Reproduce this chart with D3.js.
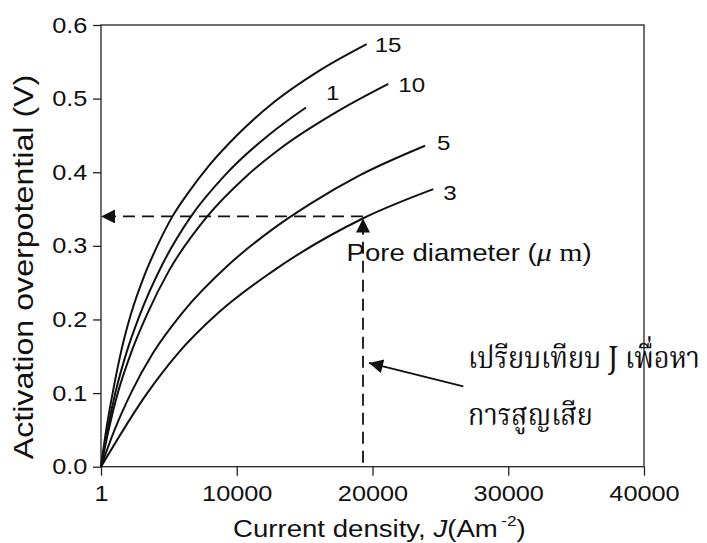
<!DOCTYPE html>
<html>
<head>
<meta charset="utf-8">
<script src="https://cdn.jsdelivr.net/npm/d3@7"></script>
<style>
  body { margin: 0; background: #fff; }
  svg { display: block; }
</style>
</head>
<body>
<svg id="chart" width="707" height="543"></svg>
<script>
// pore diameter (um) of each curve
const poreSizes = ["15", "1", "10", "5", "3"];
// current density J (A m^-2)
const curveJ = [
  [0, 400, 900, 1500, 2200, 3200, 4200, 5200, 6500, 8000, 10000, 12800, 16000, 19570],
  [0, 500, 1068, 1893, 2873, 4500, 6556, 9135, 12450, 15100],
  [0, 600, 1252, 2262, 3367, 5000, 7735, 10733, 13186, 17363, 21165],
  [0, 1000, 2262, 3853, 5945, 9503, 12450, 15500, 19080, 23870],
  [0, 3367, 5576, 8641, 12450, 19320, 24480]
];
// activation overpotential (V) at those points
const curveV = [
  [0, 0.052, 0.104, 0.158, 0.207, 0.260, 0.302, 0.338, 0.374, 0.410, 0.450, 0.496, 0.537, 0.574],
  [0, 0.052, 0.101, 0.156, 0.207, 0.274, 0.338, 0.396, 0.452, 0.488],
  [0, 0.053, 0.101, 0.157, 0.206, 0.266, 0.338, 0.395, 0.432, 0.482, 0.520],
  [0, 0.050, 0.102, 0.155, 0.208, 0.276, 0.320, 0.358, 0.396, 0.436],
  [0, 0.099, 0.152, 0.209, 0.263, 0.3375, 0.377]
];
const xTicks = [1, 10000, 20000, 30000, 40000];
const yTicks = [0, 0.1, 0.2, 0.3, 0.4, 0.5, 0.6];
// the read-off point marked with dashed lines
const markJ = 19300, markV = 0.34;
const noteLines = ["เปรียบเทียบ J เพื่อหา", "การสูญเสีย"];

var svg = d3.select("#chart");
var k = 1.15; // the fonts of the figure are wider than Arial
var sans = "'Liberation Sans', Arial, Helvetica, sans-serif";
var serif = "'Liberation Serif', 'Times New Roman', serif";
var thai = "'Noto Serif Thai', 'Angsana New', 'TH Sarabun New', Norasi, Kinnari, 'Noto Sans Thai', Garuda, Loma, serif";

var x = d3.scaleLinear().domain([0, 40000]).range([101, 644]);
var y = d3.scaleLinear().domain([0, 0.6]).range([466.7, 25]);

var defs = svg.append("defs");
defs.append("marker")
  .attr("id", "head")
  .attr("viewBox", "0 0 10 10")
  .attr("refX", 10).attr("refY", 5)
  .attr("markerUnits", "userSpaceOnUse")
  .attr("markerWidth", 15).attr("markerHeight", 14)
  .attr("orient", "auto")
  .append("path")
  .attr("d", "M0,0L10,5L0,10Z")
  .attr("fill", "#111");

// axes
var yAxis = d3.axisLeft(y).tickValues(yTicks).tickFormat(d3.format(".1f"))
  .tickSize(8).tickSizeOuter(0);
var xAxis = d3.axisBottom(x).tickValues(xTicks).tickFormat(function (d) { return String(d) })
  .tickSize(9).tickSizeOuter(0);

var gy = svg.append("g").attr("transform", "translate(" + x(0) + ",0)").call(yAxis);
var gx = svg.append("g").attr("transform", "translate(0," + y(0) + ")").call(xAxis);
[gx, gy].forEach(function (g) {
  g.select(".domain").remove();
  g.selectAll("line").attr("stroke", "#222").attr("stroke-width", 1.3);
  g.selectAll("text")
    .attr("fill", "#111")
    .style("font-family", sans)
    .style("font-size", "22px");
});
gy.selectAll("text").attr("x", -13.7 / k).attr("transform", "scale(" + k + ",1)");
gx.selectAll("text").attr("y", 19).attr("transform", "scale(" + k + ",1)");

// frame
svg.append("rect")
  .attr("x", x(0)).attr("y", y(0.6))
  .attr("width", x(40000) - x(0)).attr("height", y(0) - y(0.6))
  .attr("fill", "none").attr("stroke", "#222").attr("stroke-width", 1.3);

// curves
var line = d3.line()
  .x(function (d) { return x(d[0]) })
  .y(function (d) { return y(d[1]) })
  .curve(d3.curveMonotoneX);

var series = poreSizes.map(function (p, i) {
  return { name: p, pts: curveJ[i].map(function (j, n) { return [j, curveV[i][n]] }) };
});

svg.append("g").selectAll("path")
  .data(series)
  .enter().append("path")
  .attr("d", function (d) { return line(d.pts) })
  .attr("fill", "none")
  .attr("stroke", "#111")
  .attr("stroke-width", 2);

// curve labels, offset from the end of each curve
var labelOffsets = { "15": [8, 8], "1": [20, -7], "10": [10, 8], "5": [12, 4], "3": [10, 11] };
svg.append("g").selectAll("text")
  .data(series)
  .enter().append("text")
  .attr("transform", function (d) {
    var end = d.pts[d.pts.length - 1], o = labelOffsets[d.name];
    return "translate(" + (x(end[0]) + o[0]) + "," + (y(end[1]) + o[1]) + ") scale(" + k + ",1)";
  })
  .attr("fill", "#111")
  .style("font-family", sans)
  .style("font-size", "21px")
  .text(function (d) { return d.name });

// dashed guide lines
svg.append("line")
  .attr("x1", x(markJ)).attr("y1", y(markV))
  .attr("x2", x(0)).attr("y2", y(markV))
  .attr("stroke", "#111").attr("stroke-width", 1.8)
  .attr("stroke-dasharray", "12,7")
  .attr("marker-end", "url(#head)");
svg.append("line")
  .attr("x1", x(markJ)).attr("y1", y(0) - 4)
  .attr("x2", x(markJ)).attr("y2", y(markV) + 2)
  .attr("stroke", "#111").attr("stroke-width", 1.8)
  .attr("stroke-dasharray", "12,7")
  .attr("marker-end", "url(#head)");

// "Pore diameter" caption
var pore = svg.append("text")
  .attr("transform", "translate(" + (x(markJ) - 16.5) + "," + (y(markV) + 45) + ") scale(" + k + ",1)")
  .attr("fill", "#111")
  .style("font-family", sans)
  .style("font-size", "24px");
pore.append("tspan").text("Pore diameter (");
pore.append("tspan").style("font-family", serif).style("font-size", "26px")
  .style("font-style", "italic").text("μ");
pore.append("tspan").style("font-family", serif).style("font-size", "26px").text(" m");
pore.append("tspan").text(")");

// Thai note and its arrow
svg.append("line")
  .attr("x1", x(26690)).attr("y1", y(0.109))
  .attr("x2", x(markJ) + 6).attr("y2", y(0.141))
  .attr("stroke", "#111").attr("stroke-width", 1.8)
  .attr("marker-end", "url(#head)");

// squeeze each Thai line to the width it has in the figure
var noteWidths = [232, 125];
svg.append("g").selectAll("text")
  .data(noteLines)
  .enter().append("text")
  .attr("fill", "#111")
  .style("font-family", thai)
  .style("font-size", "30px")
  .text(function (d) { return d })
  .attr("transform", function (d, i) {
    var w = this.getComputedTextLength();
    return "translate(468," + (368 + i * 57) + ") scale(" + (noteWidths[i] / w) + ",1)";
  });

// axis titles
var xt = svg.append("text")
  .attr("transform", "translate(" + 233 + ",536.7) scale(" + k + ",1)")
  .attr("fill", "#111")
  .style("font-family", sans)
  .style("font-size", "24px");
xt.append("tspan").text("Current density, ");
xt.append("tspan").style("font-style", "italic").text("J");
xt.append("tspan").text("(Am");
xt.append("tspan").attr("dx", 3).attr("dy", -11).style("font-size", "15px").text("-2");
xt.append("tspan").attr("dy", 11).text(")");

svg.append("text")
  .attr("transform", "translate(33,267) rotate(-90) scale(" + k + ",1)")
  .attr("text-anchor", "middle")
  .attr("fill", "#111")
  .style("font-family", sans)
  .style("font-size", "28px")
  .text("Activation overpotential (V)");
</script>
</body>
</html>
